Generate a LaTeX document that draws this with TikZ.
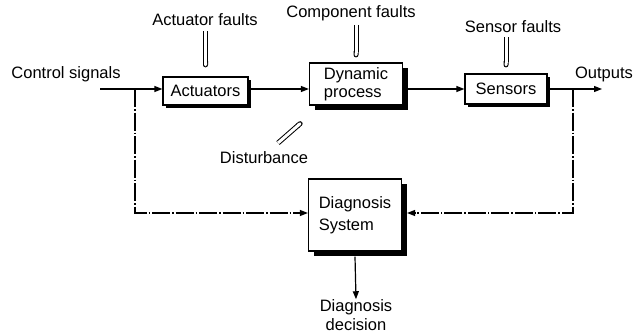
\documentclass[tikz,border=0pt]{standalone}
\usepackage{fontspec}
\setmainfont{Liberation Sans}
\usetikzlibrary{arrows.meta,shadows}
\begin{document}
\begin{tikzpicture}[x=1pt,y=-1pt,
  every node/.style={font=\fontsize{16.5}{18}\selectfont, align=center, inner sep=0pt},
  blk/.style={draw, line width=1.2pt, fill=white},
  thin shadow/.style={drop shadow={shadow xshift=2.5pt, shadow yshift=-2.5pt, fill=black, opacity=1}},
  thick shadow/.style={drop shadow={shadow xshift=5pt, shadow yshift=-5pt, fill=black, opacity=1}},
  sig/.style={line width=1.2pt, -{Triangle[length=8pt,width=6pt]}},
  dd/.style={line width=1.1pt, dash pattern=on 18pt off 2pt on 1.5pt off 2pt},
  fault/.style={line width=5pt, -{Round Cap[]},
    postaction={draw=white, line width=3pt, shorten >=1pt, -{Round Cap[]}}}
]
\useasboundingbox (0,0) rectangle (635,335);

% text labels
\node (cs) at (66,74) {Control signals};
\node (af) at (205,20) {Actuator faults};
\node (cf) at (351,13) {Component faults};
\node (sf) at (513,27) {Sensor faults};
\node (out) at (604,74) {Outputs};
\node (dist) at (264,158) {Disturbance};
\node (dec) at (356,315) {Diagnosis\\[1pt]decision};

% blocks
\node[blk, thin shadow, minimum width=85pt, minimum height=28pt] (act) at (205.5,91) {Actuators};
\node[blk, thick shadow, minimum width=93pt, minimum height=42pt, align=left] (dyn) at (356,84) {Dynamic\\process};
\node[blk, thin shadow, minimum width=82pt, minimum height=30pt] (sen) at (506,89) {Sensors};
\node[blk, thick shadow, minimum width=93pt, minimum height=72pt, align=left] (diag) at (355,215) {Diagnosis\\[4pt]System};

% coordinates
\coordinate (in) at (100,89);
\coordinate (b1) at (135,89);
\coordinate (b1d) at (135,213);
\coordinate (b2) at (573,89);
\coordinate (b2d) at (573,213);
\coordinate (oend) at (602,89);
\coordinate (dhead) at (302,122);
\coordinate (dtail) at (278,143);

% main signal path
\draw[sig] (in) -- (in -| act.west);
\draw[sig] (act.east |- in) -- (in -| dyn.west);
\draw[sig] (dyn.east |- in) -- (in -| sen.west);
\draw[sig] (sen.east |- in) -- (oend);

% to diagnosis
\draw[dd, -{Triangle[length=8pt,width=6pt]}] (b1) -- (b1d) -- (b1d -| diag.west);
\draw[dd, -{Triangle[length=8pt,width=6pt]}] (b2) -- (b2d) -- ([xshift=5pt]b2d -| diag.east);
\draw[sig] (diag.south) ++(0,5) -- (dec.north);

% fault arrows
\draw[fault] ([yshift=-5pt]act.north |- af.south) -- ([yshift=9pt]act.north);
\draw[fault] ([yshift=-4pt]dyn.north |- cf.south) -- ([yshift=5pt]dyn.north);
\draw[fault] ([yshift=-4pt]sen.north |- sf.south) -- ([yshift=6pt]sen.north);
\draw[fault] (dtail) -- (dhead);
\end{tikzpicture}
\end{document}
